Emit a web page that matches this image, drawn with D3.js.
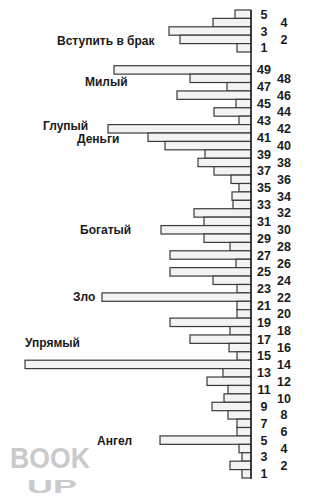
<!DOCTYPE html>
<html>
<head>
<meta charset="utf-8">
<script src="https://cdn.jsdelivr.net/npm/d3@7"></script>
<style>
  body { margin: 0; background: #fff; }
  svg { display: block; }
</style>
</head>
<body>
<script>
// top group: numbers 5..1 (top to bottom)
var topNums = [5, 4, 3, 2, 1];
var topVals = [16, 38, 82, 71, 14];

// main group: numbers 49..1 (top to bottom)
var mainNums = d3.range(49, 0, -1);
var mainVals = [137, 61, 24, 74, 15, 37, 12, 143, 103, 86,
                46, 53, 37, 20, 12, 19, 18, 57, 47, 90,
                47, 21, 81, 15, 81, 38, 14, 149, 14, 14,
                81, 21, 61, 22, 14, 226, 28, 44, 23, 27,
                39, 23, 14, 14, 91, 12, 9, 21, 9];

// word labels and the bar they sit beside
var labelWords = ["Вступить в брак", "Милый", "Глупый", "Деньги", "Богатый", "Зло", "Упрямый", "Ангел"];
var labelGroup = ["top", "main", "main", "main", "main", "main", "main", "main"];
var labelBar = [2, 48, 42, 41, 30, 22, 17, 5];

var svgWidth = 309;
var svgHeight = 500;
var axisX = 251;

var svg = d3.select("body")
  .append("svg")
  .attr("width", svgWidth)
  .attr("height", svgHeight);

// scales
var xScale = d3.scaleLinear()
  .domain([0, 226])
  .range([axisX, 25]);

var yTop = d3.scaleBand()
  .domain(topNums)
  .range([10, 52]);

var yMain = d3.scaleBand()
  .domain(mainNums)
  .range([65.7, 478]);

// watermark
svg.append("text")
  .attr("x", 10).attr("y", 468)
  .attr("fill", "#cacaca")
  .attr("font-family", "Liberation Sans, Arial, sans-serif")
  .attr("font-weight", "bold")
  .attr("font-size", "29px")
  .attr("textLength", 80)
  .attr("lengthAdjust", "spacingAndGlyphs")
  .text("BOOK");
svg.append("text")
  .attr("x", 27).attr("y", 492.5)
  .attr("fill", "#cacaca")
  .attr("font-family", "Liberation Sans, Arial, sans-serif")
  .attr("font-weight", "bold")
  .attr("font-size", "19px")
  .attr("textLength", 50)
  .attr("lengthAdjust", "spacingAndGlyphs")
  .text("UP");

function drawGroup(nums, vals, y) {
  var data = nums.map(function(n, i) { return {num: n, val: vals[i]}; });
  var g = svg.append("g");

  g.selectAll("rect")
    .data(data)
    .enter()
    .append("rect")
    .attr("x", d => xScale(d.val))
    .attr("y", d => y(d.num))
    .attr("width", d => axisX - xScale(d.val))
    .attr("height", y.bandwidth())
    .attr("fill", "#f3f3f3")
    .attr("stroke", "#3a3a3a")
    .attr("stroke-width", 1.2);

  g.selectAll("text")
    .data(data)
    .enter()
    .append("text")
    .attr("x", d => d.num % 2 ? 264 : 284)
    .attr("y", d => y(d.num) + y.bandwidth() / 2)
    .attr("dy", "0.36em")
    .attr("text-anchor", "middle")
    .attr("font-family", "Liberation Sans, Arial, sans-serif")
    .attr("font-weight", "bold")
    .attr("font-size", "12.5px")
    .attr("fill", "#1a1a1a")
    .text(d => d.num);
}

drawGroup(topNums, topVals, yTop);
drawGroup(mainNums, mainVals, yMain);

// vertical axis line
svg.append("line")
  .attr("x1", axisX).attr("x2", axisX)
  .attr("y1", 10).attr("y2", 479)
  .attr("stroke", "#2a2a2a")
  .attr("stroke-width", 1.6);

// word labels
var labelX = [57, 85, 43, 77, 80, 73, 25, 97];
var labelShift = [1, 3, -3, 1, 0, 0, 4, 1];
svg.append("g").selectAll("text")
  .data(labelWords)
  .enter()
  .append("text")
  .attr("x", (d, i) => labelX[i])
  .attr("y", function(d, i) {
    var y = labelGroup[i] == "top" ? yTop : yMain;
    return y(labelBar[i]) + y.bandwidth() / 2 + labelShift[i];
  })
  .attr("dy", "0.36em")
  .attr("font-family", "Liberation Sans, Arial, sans-serif")
  .attr("font-weight", "bold")
  .attr("font-size", "12px")
  .attr("fill", "#1a1a1a")
  .text(d => d);
</script>
</body>
</html>
